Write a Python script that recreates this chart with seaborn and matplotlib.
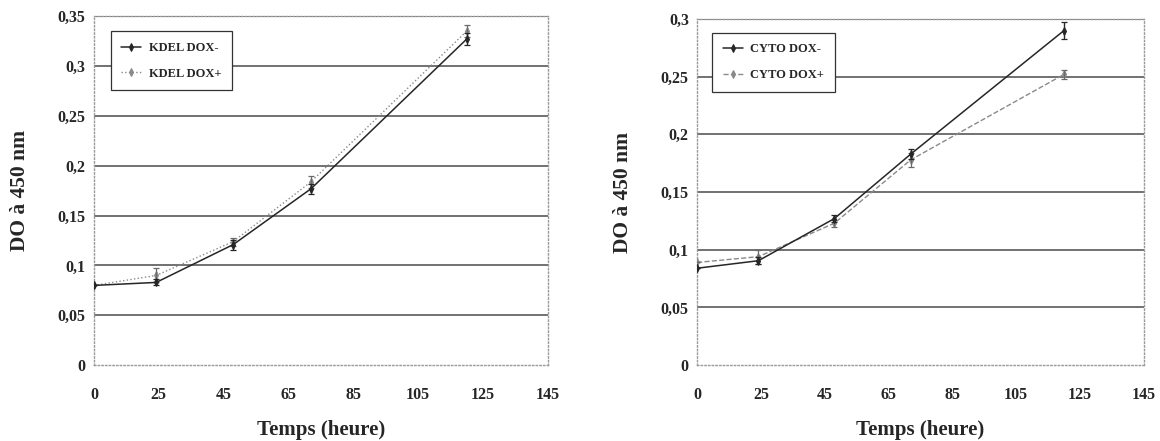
import numpy as np
import pandas as pd
import matplotlib
matplotlib.use("Agg")
import matplotlib.pyplot as plt
import seaborn as sns

sns.set_style("white")
plt.rcParams['font.family'] = ['Liberation Serif', 'DejaVu Serif']
plt.rcParams['font.weight'] = 'bold'

# Data
temps = [0, 24, 48, 72, 120]

kdel_minus = [0.080, 0.083, 0.121, 0.177, 0.327]
kdel_minus_err = [0.0, 0.003, 0.005, 0.005, 0.006]
kdel_plus = [0.080, 0.090, 0.124, 0.184, 0.335]
kdel_plus_err = [0.0, 0.007, 0.004, 0.006, 0.006]

cyto_minus = [0.084, 0.0905, 0.127, 0.183, 0.290]
cyto_minus_err = [0.0, 0.003, 0.003, 0.004, 0.007]
cyto_plus = [0.089, 0.094, 0.123, 0.178, 0.252]
cyto_plus_err = [0.0, 0.006, 0.003, 0.006, 0.004]

x_ticks = [0, 25, 45, 65, 85, 105, 125, 145]
y_ticks_left = [0, 0.05, 0.1, 0.15, 0.2, 0.25, 0.3, 0.35]
y_labels_left = ["0", "0,05", "0,1", "0,15", "0,2", "0,25", "0,3", "0,35"]
y_ticks_right = [0, 0.05, 0.1, 0.15, 0.2, 0.25, 0.3]
y_labels_right = ["0", "0,05", "0,1", "0,15", "0,2", "0,25", "0,3"]


# x axis: first interval 0-25, then steps of 20 (evenly spaced labels)
def fwd(t):
    t = np.asarray(t, dtype=float)
    return np.where(t <= 25, t / 25.0, 1 + (t - 25) / 20.0)


def inv(u):
    u = np.asarray(u, dtype=float)
    return np.where(u <= 1, u * 25.0, 25 + (u - 1) * 20.0)


fig = plt.figure(figsize=(11.6, 4.41), dpi=100)
ax1 = fig.add_axes([0.081, 0.172, 0.391, 0.791])
ax2 = fig.add_axes([0.601, 0.172, 0.385, 0.785])


def draw_panel(ax, name, y_minus, e_minus, y_plus, e_plus, plus_style,
               yticks, ylabels, legend_anchor, ylabel_x):
    ax.set_xscale('function', functions=(fwd, inv))
    ax.grid(False)
    for v in yticks[1:]:
        ax.axhline(v, color='#4a4a4a', lw=1.1, zorder=1)

    df_m = pd.DataFrame({'t': temps, 'do': y_minus})
    df_p = pd.DataFrame({'t': temps, 'do': y_plus})

    sns.lineplot(data=df_p, x='t', y='do', ax=ax, color='#8a8a8a', lw=1.0,
                 linestyle=plus_style, marker='d', markersize=4,
                 markeredgecolor='#8a8a8a', label=name + ' DOX+', zorder=3)
    sns.lineplot(data=df_m, x='t', y='do', ax=ax, color='#262626', lw=1.1,
                 marker='d', markersize=4, markeredgecolor='#262626',
                 label=name + ' DOX-', zorder=4)
    ax.errorbar(temps, y_plus, yerr=e_plus, fmt='none', ecolor='#6a6a6a',
                elinewidth=0.9, capsize=2.5, capthick=0.9, zorder=3)
    ax.errorbar(temps, y_minus, yerr=e_minus, fmt='none', ecolor='#262626',
                elinewidth=1.0, capsize=2.5, capthick=0.9, zorder=4)

    ax.set_ylim(yticks[0], yticks[-1])
    ax.set_xticks(x_ticks)
    ax.set_xticklabels([str(v) for v in x_ticks], fontsize=11.5,
                       fontweight='bold')
    ax.set_yticks(yticks)
    ax.set_yticklabels(ylabels, fontsize=11.5, fontweight='bold')
    ax.tick_params(axis='x', length=0, pad=16)
    ax.tick_params(axis='y', length=0, pad=6)
    ax.set_xlim(0, 145)

    for s in ax.spines.values():
        s.set_visible(True)
        s.set_color('#9a9a9a')
        s.set_linestyle(':')
        s.set_linewidth(1.0)

    ax.set_xlabel("Temps (heure)", fontsize=15, fontweight='bold')
    ax.set_ylabel("DO à 450 nm", fontsize=15.5, fontweight='bold')
    ax.xaxis.set_label_coords(0.5, -0.158)
    ax.yaxis.set_label_coords(ylabel_x, 0.5)

    handles, labels = ax.get_legend_handles_labels()
    leg = ax.legend(handles[::-1], labels[::-1], loc='upper left',
                    bbox_to_anchor=legend_anchor, borderaxespad=0,
                    fancybox=False, framealpha=1, edgecolor='#333333',
                    prop={'family': 'Liberation Serif', 'weight': 'bold',
                          'size': 9},
                    handlelength=1.6, handletextpad=0.6, borderpad=0.85,
                    labelspacing=1.1)
    leg.get_frame().set_linewidth(0.9)
    leg.set_zorder(10)


draw_panel(ax1, 'KDEL', kdel_minus, kdel_minus_err, kdel_plus, kdel_plus_err,
           ':', y_ticks_left, y_labels_left, (0.037, 0.957), -0.141)
draw_panel(ax2, 'CYTO', cyto_minus, cyto_minus_err, cyto_plus, cyto_plus_err,
           '--', y_ticks_right, y_labels_right, (0.034, 0.96), -0.143)

fig.savefig("out.png", dpi=100)
